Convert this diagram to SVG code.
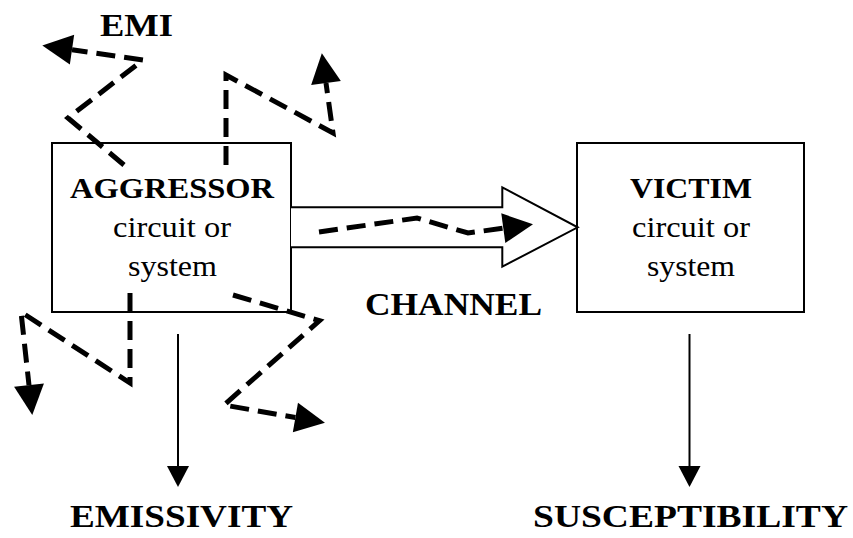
<svg xmlns="http://www.w3.org/2000/svg" width="853" height="538" viewBox="0 0 853 538" font-family="Liberation Serif, Times New Roman, serif">
<style>
.box{fill:#fff;stroke:#000;stroke-width:2}
.zig{fill:none;stroke:#000;stroke-width:5;stroke-dasharray:19 9;stroke-linejoin:miter}
.solid{fill:none;stroke:#000;stroke-width:2}
.big{font-weight:bold;font-size:32px;fill:#000}
.hb{font-weight:bold;font-size:29px;fill:#000}
.hr{font-size:29px;fill:#000}
</style>
<defs>
<marker id="dhead" markerUnits="userSpaceOnUse" markerWidth="31" markerHeight="30" refX="0" refY="15" orient="auto" overflow="visible">
<path d="M0,0 L30,15 L0,30 Z" fill="#000" stroke="none"/>
</marker>
<marker id="shead" markerUnits="userSpaceOnUse" markerWidth="22" markerHeight="22" refX="0" refY="11" orient="auto" overflow="visible">
<path d="M0,0 L21,11 L0,22 Z" fill="#000" stroke="none"/>
</marker>
</defs>

<g id="aggressor">
<rect class="box" x="52" y="143" width="239" height="169"/>
<text class="hb" x="70" y="198" textLength="204" lengthAdjust="spacingAndGlyphs" font-family="Liberation Serif, Times New Roman, serif">AGGRESSOR</text>
<text class="hr" x="113" y="237" textLength="118" lengthAdjust="spacingAndGlyphs" font-family="Liberation Serif, Times New Roman, serif">circuit or</text>
<text class="hr" x="128" y="276" textLength="89" lengthAdjust="spacingAndGlyphs" font-family="Liberation Serif, Times New Roman, serif">system</text>
</g>

<g id="victim">
<rect class="box" x="577" y="143" width="227" height="169"/>
<text class="hb" x="630" y="198" textLength="122" lengthAdjust="spacingAndGlyphs" font-family="Liberation Serif, Times New Roman, serif">VICTIM</text>
<text class="hr" x="632" y="237" textLength="118" lengthAdjust="spacingAndGlyphs" font-family="Liberation Serif, Times New Roman, serif">circuit or</text>
<text class="hr" x="647" y="276" textLength="88" lengthAdjust="spacingAndGlyphs" font-family="Liberation Serif, Times New Roman, serif">system</text>
</g>

<g id="connectors">
<path id="channel-arrow" d="M291,207.3 H502.3 V187.3 L577.7,227.3 L502.3,266.7 V247.3 H291" fill="#fff" stroke="#000" stroke-width="2" stroke-linejoin="miter"/>
<path class="zig" d="M319,232 L417,218 L468,233 L503.3,228.2" marker-end="url(#dhead)"/>
<path class="zig" d="M124,165 L68,118 L143,60 L72,49.7" marker-end="url(#dhead)"/>
<path class="zig" d="M226,165 L226,75 L333,133 L326,83" marker-end="url(#dhead)"/>
<path class="zig" d="M130,293 L130,383 L21,312 L29,385.2" marker-end="url(#dhead)"/>
<path class="zig" d="M233,295 L319.5,320.7 L224,405 L295.4,417.5" marker-end="url(#dhead)"/>
<path class="solid" d="M178,334 V466" marker-end="url(#shead)"/>
<path class="solid" d="M689.5,334 V466" marker-end="url(#shead)"/>
</g>

<g id="labels">
<text class="big" x="100" y="36" textLength="73" lengthAdjust="spacingAndGlyphs" font-family="Liberation Serif, Times New Roman, serif">EMI</text>
<text class="big" x="365" y="315" textLength="177" lengthAdjust="spacingAndGlyphs" font-family="Liberation Serif, Times New Roman, serif">CHANNEL</text>
<text class="big" x="70" y="527" textLength="223" lengthAdjust="spacingAndGlyphs" font-family="Liberation Serif, Times New Roman, serif">EMISSIVITY</text>
<text class="big" x="533" y="527" textLength="315" lengthAdjust="spacingAndGlyphs" font-family="Liberation Serif, Times New Roman, serif">SUSCEPTIBILITY</text>
</g>
</svg>
